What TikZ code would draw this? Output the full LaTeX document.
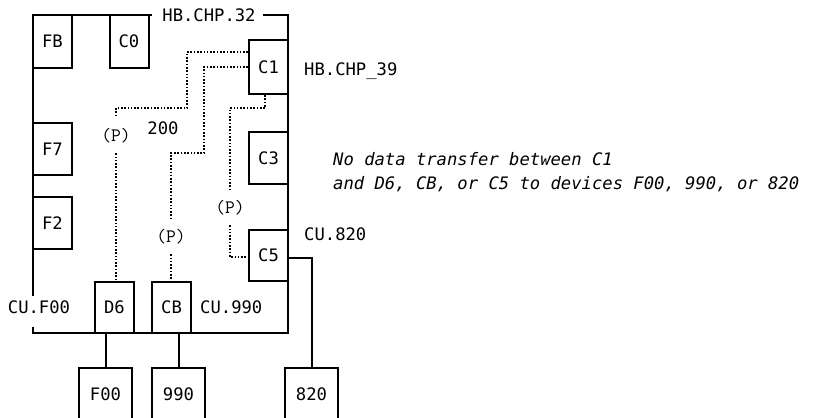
\documentclass[tikz,border=0pt]{standalone}
\usepackage{fontspec}
\usetikzlibrary{calc}
\newfontfamily\labfont{DejaVu Sans Mono}
\newcommand{\boxfont}{\labfont\fontsize{17.2pt}{20pt}\selectfont}
\newcommand{\notefont}{\labfont\itshape\fontsize{17.2pt}{24pt}\selectfont}
\newcommand{\parfont}{\ttfamily\fontsize{19pt}{22pt}\selectfont}

\begin{document}
\begin{tikzpicture}[x=1pt,y=-1pt,
  box/.style={draw, line width=2pt, minimum width=39pt, minimum height=53pt, inner sep=0pt, font=\boxfont},
  dev/.style={box, minimum width=53pt},
  frame/.style={line width=2pt},
  link/.style={line width=2pt},
  dotlink/.style={line width=2pt, dash pattern=on 1.6pt off 1.7pt},
  plabel/.style={font=\parfont, minimum height=35pt, inner sep=1pt},
  txt/.style={font=\boxfont, inner sep=0pt}]
\useasboundingbox (0,0) rectangle (815,418);
\clip (0,0) rectangle (815,418);

% Frame of the chpid
\draw[frame] (33,296) -- (33,15) -- (152,15) (263,15) -- (288,15) -- (288,333) -- (33,333) -- (33,327);
\node[txt] (hb32) at (209,15) {HB.CHP.32};
\node[txt] (cuf00) at (39,307.5) {CU.F00};

% Control units
\node[box] (FB) at (52.5,41.5) {FB};
\node[box] (C0) at (129,41.5) {C0};
\node[box, minimum height=54pt] (C1) at (268.5,67) {C1};
\node[box, minimum height=52pt] (F7) at (52.5,149) {F7};
\node[box, minimum height=52pt] (F2) at (52.5,223) {F2};
\node[box, minimum height=52pt] (C3) at (268.5,158) {C3};
\node[box, minimum height=51pt] (C5) at (268.5,255.5) {C5};
\node[box, minimum height=51pt] (D6) at (114.5,307.5) {D6};
\node[box, minimum height=51pt] (CB) at (171.5,307.5) {CB};

% Devices
\node[dev] (F00) at (105.5,394.5) {F00};
\node[dev] (d990) at (178.5,394.5) {990};
\node[dev] (d820) at (311.5,394.5) {820};

% Labels
\node[txt, anchor=west] (hb39) at (304,71) {HB.CHP\_39};
\node[txt, anchor=west] (cu820) at (304,234) {CU.820};
\node[txt, anchor=west] (cu990) at (200,307.5) {CU.990};
\node[txt] (n200) at (163,128.5) {200};
\node[anchor=west, align=left, font=\notefont, inner sep=0pt] (note) at (333,172)
  {No data transfer between C1\\and D6, CB, or C5 to devices F00, 990, or 820};

% Device links
\draw[link] (F00.north) -- (F00.north |- D6.south);
\draw[link] (d990.north) -- (d990.north |- CB.south);
\draw[link] ([yshift=-2.5pt]C5.east) -| (d820.north);

% Paths
\node[plabel] (p1) at (116,135.5) {(P)};
\node[plabel] (p2) at (171,236.5) {(P)};
\node[plabel] (p3) at (230,207.5) {(P)};
\draw[dotlink] ([yshift=-13pt]C1.north west) -| (187,108) -| (p1);
\draw[dotlink] (p1) -- (p1 |- D6.north);
\draw[dotlink] ([yshift=-28pt]C1.north west) -| (204,153) -| (p2);
\draw[dotlink] (p2) -- (p2 |- CB.north);
\draw[dotlink] ([xshift=-3.5pt]C1.south) |- (230,108) -- (p3);
\draw[dotlink] (p3) |- ([yshift=-1.5pt]C5.west);
\end{tikzpicture}
\end{document}
